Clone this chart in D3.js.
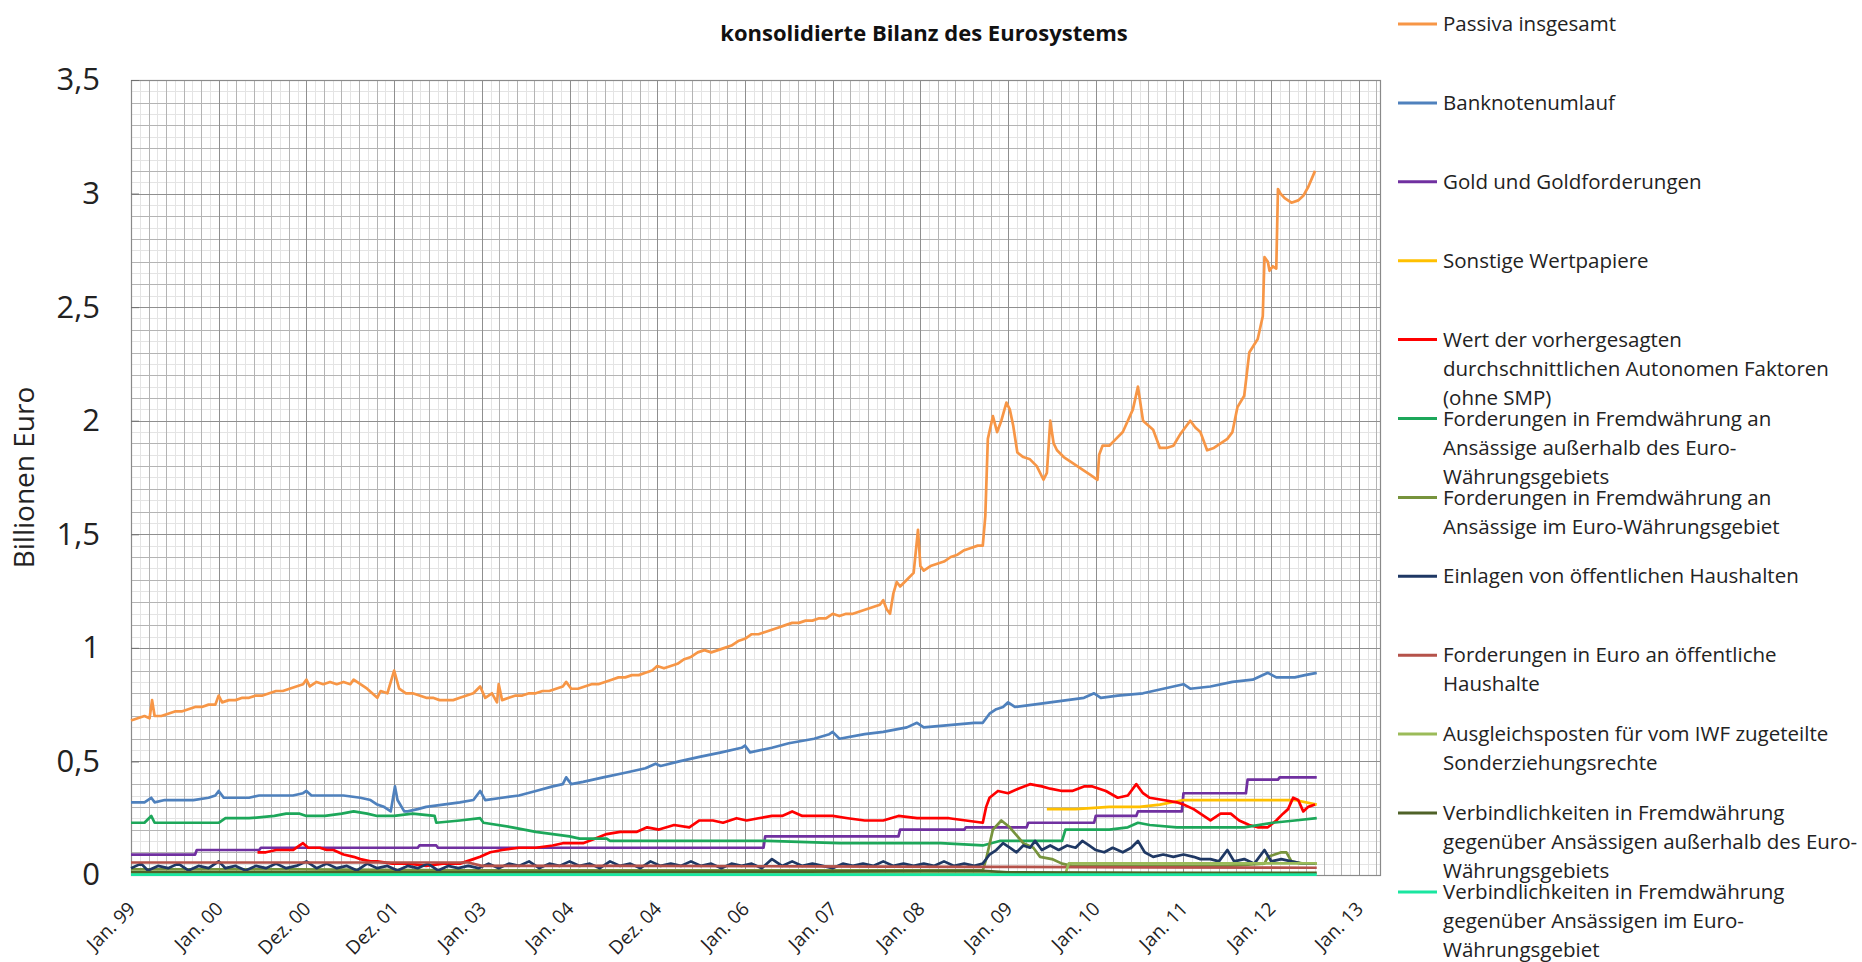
<!DOCTYPE html>
<html lang="de">
<head>
<meta charset="utf-8">
<title>konsolidierte Bilanz des Eurosystems</title>
<script src="https://cdn.jsdelivr.net/npm/d3@7"></script>
<style>
  html, body { margin: 0; padding: 0; background: #ffffff; }
  svg { display: block; font-family: "Open Sans", "Liberation Sans", sans-serif; }
</style>
</head>
<body>
<svg id="chart" width="1862" height="962"></svg>
<script>
// Wochenindex seit Jan. 1999 und Werte in Billionen Euro
const xTickWeeks = [0, 52, 104, 156, 208, 260, 312, 364, 416, 468, 520, 572, 624, 676, 728];
const xTickLabels = ["Jan. 99", "Jan. 00", "Dez. 00", "Dez. 01", "Jan. 03", "Jan. 04", "Dez. 04",
  "Jan. 06", "Jan. 07", "Jan. 08", "Jan. 09", "Jan. 10", "Jan. 11", "Jan. 12", "Jan. 13"];
const yTickValues = [0, 0.5, 1, 1.5, 2, 2.5, 3, 3.5];
const yTickLabels = ["0", "0,5", "1", "1,5", "2", "2,5", "3", "3,5"];

const passivaInsgesamt = [[0,0.68],[4,0.69],[8,0.70],[11,0.69],[12.5,0.77],[14,0.70],[18,0.70],[22,0.71],[26,0.72],[30,0.72],[34,0.73],[38,0.74],[42,0.74],[46,0.75],[50,0.75],[52,0.79],[54,0.76],[58,0.77],[62,0.77],[66,0.78],[70,0.78],[74,0.79],[78,0.79],[82,0.80],[86,0.81],[90,0.81],[94,0.82],[98,0.83],[102,0.84],[104,0.86],[106,0.83],[110,0.85],[114,0.84],[118,0.85],[122,0.84],[126,0.85],[130,0.84],[132,0.86],[136,0.84],[140,0.82],[143,0.80],[146,0.78],[148,0.81],[152,0.80],[156,0.90],[159,0.82],[163,0.80],[167,0.80],[171,0.79],[175,0.78],[179,0.78],[183,0.77],[187,0.77],[191,0.77],[195,0.78],[199,0.79],[203,0.80],[207,0.83],[210,0.78],[214,0.80],[217,0.76],[218,0.84],[220,0.77],[224,0.78],[228,0.79],[232,0.79],[236,0.80],[240,0.80],[244,0.81],[248,0.81],[252,0.82],[256,0.83],[258,0.85],[261,0.82],[265,0.82],[269,0.83],[273,0.84],[277,0.84],[281,0.85],[285,0.86],[289,0.87],[293,0.87],[297,0.88],[301,0.88],[305,0.89],[309,0.90],[312,0.92],[316,0.91],[320,0.92],[324,0.93],[328,0.95],[332,0.96],[336,0.98],[340,0.99],[344,0.98],[348,0.99],[352,1.00],[356,1.01],[360,1.03],[364,1.04],[368,1.06],[372,1.06],[376,1.07],[380,1.08],[384,1.09],[388,1.10],[392,1.11],[396,1.11],[400,1.12],[404,1.12],[408,1.13],[412,1.13],[416,1.15],[420,1.14],[424,1.15],[428,1.15],[432,1.16],[436,1.17],[440,1.18],[444,1.19],[446,1.21],[448,1.17],[450,1.15],[452,1.24],[454,1.29],[456,1.27],[460,1.30],[464,1.33],[466.6,1.52],[468,1.36],[470,1.34],[474,1.36],[478,1.37],[482,1.38],[486,1.40],[490,1.41],[494,1.43],[498,1.44],[502,1.45],[505,1.45],[506.5,1.58],[508,1.92],[511,2.02],[513.5,1.95],[516,2.00],[519,2.08],[521,2.05],[523,1.98],[525.5,1.86],[529,1.84],[533,1.83],[537,1.80],[541,1.74],[543,1.77],[545,2.00],[547,1.90],[549,1.87],[553,1.84],[557,1.82],[561,1.80],[565,1.78],[569,1.76],[573,1.74],[574,1.85],[576,1.89],[580,1.89],[584,1.92],[588,1.95],[591,2.00],[594,2.05],[597,2.15],[600,2.00],[603,1.98],[606,1.96],[610,1.88],[614,1.88],[618,1.89],[622,1.94],[625,1.97],[628,2.00],[631,1.97],[634,1.95],[638,1.87],[642,1.88],[646,1.90],[650,1.92],[653,1.95],[656,2.06],[660,2.11],[663,2.30],[668,2.36],[671,2.46],[672,2.72],[674,2.70],[675,2.66],[677,2.68],[679,2.67],[680,3.02],[681.5,3.00],[684,2.98],[688,2.96],[692,2.97],[695,2.99],[698,3.03],[702,3.10]];

const banknotenumlauf = [[0,0.32],[4,0.32],[8,0.32],[12,0.34],[14,0.32],[20,0.33],[28,0.33],[37,0.33],[46,0.34],[50,0.35],[52,0.37],[55,0.34],[62,0.34],[70,0.34],[76,0.35],[86,0.35],[96,0.35],[102,0.36],[104,0.37],[107,0.35],[116,0.35],[126,0.35],[136,0.34],[142,0.33],[146,0.31],[150,0.30],[154,0.28],[156.5,0.39],[158,0.33],[162,0.28],[164,0.28],[170,0.29],[175,0.30],[185,0.31],[195,0.32],[203,0.33],[207,0.37],[210,0.33],[220,0.34],[230,0.35],[240,0.37],[250,0.39],[256,0.40],[258,0.43],[261,0.40],[268,0.41],[280,0.43],[293,0.45],[305,0.47],[311,0.49],[314,0.48],[325,0.50],[337,0.52],[350,0.54],[362,0.56],[364,0.57],[367,0.54],[380,0.56],[390,0.58],[405,0.60],[414,0.62],[416,0.63],[420,0.60],[435,0.62],[446,0.63],[460,0.65],[466,0.67],[470,0.65],[485,0.66],[500,0.67],[505,0.67],[509,0.71],[513,0.73],[517,0.74],[520,0.76],[524,0.74],[535,0.75],[545,0.76],[555,0.77],[565,0.78],[571,0.80],[575,0.78],[585,0.79],[600,0.80],[612,0.82],[624,0.84],[628,0.82],[640,0.83],[653,0.85],[665,0.86],[674,0.89],[679,0.87],[690,0.87],[696,0.88],[703,0.89]];

const goldforderungen = [[0,0.09],[38,0.09],[39,0.11],[76,0.11],[77,0.12],[128,0.12],[170,0.12],[171,0.13],[181,0.13],[182,0.12],[240,0.12],[300,0.12],[375,0.12],[376,0.17],[455,0.17],[456,0.20],[494,0.20],[495,0.21],[531,0.21],[532,0.23],[571,0.23],[572,0.26],[596,0.26],[597,0.28],[623,0.28],[624,0.36],[661,0.36],[662,0.42],[680,0.42],[681,0.43],[703,0.43]];

const sonstigeWertpapiere = [[543,0.29],[560,0.29],[580,0.30],[598,0.30],[610,0.31],[624,0.33],[640,0.33],[663,0.33],[680,0.33],[690,0.33],[703,0.31]];

const autonomeFaktoren = [[75,0.10],[80,0.10],[86,0.11],[92,0.11],[96,0.11],[100,0.13],[102,0.14],[105,0.12],[108,0.12],[112,0.12],[116,0.11],[120,0.11],[126,0.09],[132,0.08],[136,0.07],[142,0.06],[146,0.06],[155,0.05],[165,0.05],[175,0.04],[185,0.05],[195,0.05],[203,0.07],[207,0.08],[213,0.10],[220,0.11],[230,0.12],[240,0.12],[250,0.13],[256,0.14],[262,0.14],[268,0.14],[275,0.16],[282,0.18],[290,0.19],[300,0.19],[306,0.21],[313,0.20],[322,0.22],[331,0.21],[337,0.24],[345,0.24],[351,0.23],[359,0.25],[365,0.24],[372,0.25],[380,0.26],[386,0.26],[392,0.28],[398,0.26],[405,0.26],[416,0.26],[425,0.25],[435,0.24],[446,0.24],[455,0.26],[466,0.25],[475,0.25],[485,0.25],[495,0.24],[505,0.23],[507,0.30],[509,0.34],[514,0.37],[520,0.36],[526,0.38],[533,0.40],[540,0.39],[545,0.38],[552,0.37],[558,0.37],[565,0.39],[570,0.39],[578,0.37],[585,0.34],[591,0.35],[596,0.40],[600,0.36],[604,0.34],[612,0.33],[620,0.32],[624,0.31],[630,0.29],[636,0.26],[640,0.24],[646,0.27],[652,0.27],[657,0.24],[663,0.22],[668,0.21],[674,0.21],[679,0.24],[683,0.27],[686,0.29],[689,0.34],[692,0.33],[695,0.28],[698,0.30],[702,0.31]];

const fremdwAusserhalb = [[0,0.23],[8,0.23],[12,0.26],[14,0.23],[30,0.23],[45,0.23],[52,0.23],[56,0.25],[70,0.25],[85,0.26],[92,0.27],[100,0.27],[104,0.26],[115,0.26],[125,0.27],[132,0.28],[140,0.27],[146,0.26],[156,0.26],[167,0.27],[180,0.26],[181,0.23],[195,0.24],[207,0.25],[209,0.23],[226,0.21],[240,0.19],[250,0.18],[260,0.17],[266,0.16],[282,0.16],[284,0.15],[300,0.15],[313,0.15],[337,0.15],[377,0.15],[420,0.14],[446,0.14],[480,0.14],[505,0.13],[515,0.15],[535,0.15],[552,0.15],[554,0.20],[580,0.20],[591,0.21],[597,0.23],[604,0.22],[620,0.21],[648,0.21],[660,0.21],[677,0.23],[690,0.24],[703,0.25]];

const fremdwImEuroraum = [[0,0.025],[100,0.025],[200,0.02],[300,0.02],[400,0.02],[505,0.02],[507,0.07],[511,0.20],[516,0.24],[521,0.21],[529,0.14],[535,0.12],[539,0.08],[546,0.07],[552,0.05],[558,0.04],[600,0.04],[650,0.04],[672,0.05],[674,0.08],[682,0.10],[685,0.10],[688,0.06],[695,0.05],[703,0.05]];

const einlagenHaushalte = [[0,0.03],[6,0.05],[10,0.02],[16,0.04],[22,0.03],[28,0.05],[34,0.02],[40,0.04],[46,0.03],[52,0.06],[56,0.03],[62,0.04],[68,0.02],[74,0.04],[80,0.03],[86,0.05],[92,0.03],[98,0.04],[104,0.06],[110,0.03],[116,0.05],[122,0.03],[128,0.04],[134,0.02],[140,0.05],[146,0.03],[152,0.04],[158,0.02],[164,0.04],[170,0.03],[176,0.05],[182,0.02],[188,0.04],[194,0.03],[200,0.04],[206,0.03],[212,0.05],[218,0.03],[224,0.05],[230,0.04],[236,0.06],[242,0.03],[248,0.05],[254,0.04],[260,0.06],[266,0.04],[272,0.05],[278,0.03],[284,0.06],[290,0.04],[296,0.05],[302,0.03],[308,0.06],[314,0.04],[320,0.05],[326,0.04],[332,0.06],[338,0.04],[344,0.05],[350,0.03],[356,0.05],[362,0.04],[368,0.05],[374,0.03],[380,0.07],[386,0.04],[392,0.06],[398,0.04],[404,0.05],[410,0.04],[416,0.03],[422,0.05],[428,0.04],[434,0.05],[440,0.04],[446,0.06],[452,0.04],[458,0.05],[464,0.04],[470,0.05],[476,0.04],[482,0.06],[488,0.04],[494,0.05],[500,0.04],[505,0.05],[509,0.09],[513,0.11],[517,0.14],[521,0.12],[525,0.10],[529,0.13],[533,0.12],[536,0.15],[540,0.11],[545,0.13],[550,0.11],[555,0.13],[560,0.12],[564,0.15],[568,0.13],[572,0.11],[577,0.10],[582,0.12],[588,0.10],[593,0.12],[597,0.15],[601,0.10],[606,0.08],[612,0.09],[618,0.08],[624,0.09],[630,0.08],[634,0.07],[640,0.07],[645,0.06],[650,0.11],[654,0.06],[660,0.07],[666,0.05],[672,0.11],[676,0.06],[682,0.07],[688,0.06],[694,0.05],[702,0.05]];

const euroForderungenHaushalte = [[0,0.055],[100,0.055],[200,0.055],[208,0.04],[300,0.04],[400,0.038],[500,0.036],[600,0.034],[703,0.032]];

const iwfAusgleichsposten = [[0,0.006],[200,0.006],[400,0.006],[554,0.006],[556,0.051],[620,0.051],[703,0.051]];

const verbAusserhalb = [[0,0.012],[200,0.012],[400,0.015],[505,0.018],[520,0.012],[620,0.01],[703,0.01]];

const verbImEuroraum = [[0,0.002],[350,0.002],[703,0.002]];

const seriesList = [
  { name: ["Passiva insgesamt"], color: "#f79646", values: passivaInsgesamt },
  { name: ["Banknotenumlauf"], color: "#4f81bd", values: banknotenumlauf },
  { name: ["Gold und Goldforderungen"], color: "#7030a0", values: goldforderungen },
  { name: ["Sonstige Wertpapiere"], color: "#ffc000", values: sonstigeWertpapiere },
  { name: ["Wert der vorhergesagten", "durchschnittlichen Autonomen Faktoren", "(ohne SMP)"], color: "#ff0000", values: autonomeFaktoren },
  { name: ["Forderungen in Fremdwährung an", "Ansässige außerhalb des Euro-", "Währungsgebiets"], color: "#1da75a", values: fremdwAusserhalb },
  { name: ["Forderungen in Fremdwährung an", "Ansässige im Euro-Währungsgebiet"], color: "#77933c", values: fremdwImEuroraum },
  { name: ["Einlagen von öffentlichen Haushalten"], color: "#1f3864", values: einlagenHaushalte },
  { name: ["Forderungen in Euro an öffentliche", "Haushalte"], color: "#b5524a", values: euroForderungenHaushalte },
  { name: ["Ausgleichsposten für vom IWF zugeteilte", "Sonderziehungsrechte"], color: "#9bbb59", values: iwfAusgleichsposten },
  { name: ["Verbindlichkeiten in Fremdwährung", "gegenüber Ansässigen außerhalb des Euro-", "Währungsgebiets"], color: "#4f6228", values: verbAusserhalb },
  { name: ["Verbindlichkeiten in Fremdwährung", "gegenüber Ansässigen im Euro-", "Währungsgebiet"], color: "#19e6a0", values: verbImEuroraum }
];

const svg = d3.select("#chart");
const plot = { left: 131, right: 1380, top: 80, bottom: 875 };

const x = d3.scaleLinear().domain([0, 740.5]).range([plot.left, plot.right]);
const y = d3.scaleLinear().domain([0, 3.5]).range([plot.bottom, plot.top]);

// Gitternetz: fein, mittel, Hauptlinien
const grid = svg.append("g");
const addV = (weeks, color) => grid.selectAll(null).data(weeks).join("line")
  .attr("x1", d => Math.round(x(d)) + 0.5).attr("x2", d => Math.round(x(d)) + 0.5)
  .attr("y1", plot.top).attr("y2", plot.bottom)
  .attr("stroke", color).attr("stroke-width", 1);
const addH = (vals, color) => grid.selectAll(null).data(vals).join("line")
  .attr("x1", plot.left).attr("x2", plot.right)
  .attr("y1", d => Math.round(y(d)) + 0.5).attr("y2", d => Math.round(y(d)) + 0.5)
  .attr("stroke", color).attr("stroke-width", 1);

const fineStep = 52 / 10;
addV(d3.range(0, 740.5, fineStep).filter((d, i) => i % 2 === 1), "#e4e4e4");
addH(d3.range(0.05, 3.5, 0.1), "#e4e4e4");
addV(d3.range(0, 740.5, fineStep * 2).filter((d, i) => i % 5 !== 0), "#b4b4b4");
addH(d3.range(0.1, 3.5, 0.1).filter(d => Math.abs(d * 2 - Math.round(d * 2)) > 1e-6), "#b4b4b4");
addV(xTickWeeks.filter(d => d > 0), "#8f8f8f");
addH(yTickValues.filter(d => d > 0 && d < 3.5), "#8f8f8f");

// Rahmen der Zeichenfläche
svg.append("rect")
  .attr("x", plot.left + 0.5).attr("y", plot.top + 0.5)
  .attr("width", plot.right - plot.left).attr("height", plot.bottom - plot.top)
  .attr("fill", "none").attr("stroke", "#8a8a8a").attr("stroke-width", 1.2);

// Y-Achse
const yAxis = d3.axisLeft(y).tickValues(yTickValues)
  .tickFormat((d, i) => yTickLabels[i]).tickSize(-8).tickPadding(31);
const yAxisG = svg.append("g").attr("transform", `translate(${plot.left},0)`).call(yAxis);
yAxisG.select(".domain").remove();
yAxisG.selectAll(".tick line").attr("stroke", "#707070");
yAxisG.selectAll("text").attr("font-size", 31).attr("fill", "#222").attr("font-family", "Open Sans, sans-serif");

// X-Achse mit schrägen Beschriftungen
const xAxis = d3.axisBottom(x).tickValues(xTickWeeks)
  .tickFormat((d, i) => xTickLabels[i]).tickSize(0);
const xAxisG = svg.append("g").attr("transform", `translate(0,${plot.bottom})`).call(xAxis);
xAxisG.select(".domain").remove();
xAxisG.selectAll("text")
  .attr("font-size", 19).attr("fill", "#222").attr("font-family", "Open Sans, sans-serif")
  .attr("text-anchor", "end")
  .attr("dy", null).attr("y", 0)
  .attr("transform", "translate(5,35) rotate(-45)");

// Achsentitel und Diagrammtitel
svg.append("text")
  .attr("transform", `translate(34,${(plot.top + plot.bottom) / 2}) rotate(-90)`)
  .attr("text-anchor", "middle").attr("font-size", 28).attr("fill", "#222")
  .text("Billionen Euro");

svg.append("text")
  .attr("x", 924).attr("y", 41)
  .attr("text-anchor", "middle").attr("font-size", 22).attr("font-weight", "bold").attr("fill", "#111")
  .text("konsolidierte Bilanz des Eurosystems");

// Datenreihen
const line = d3.line().x(d => x(d[0])).y(d => y(d[1])).curve(d3.curveLinear);
const lines = svg.append("g");
seriesList.forEach(s => {
  lines.append("path")
    .datum(s.values)
    .attr("fill", "none")
    .attr("stroke", s.color)
    .attr("stroke-width", 2.7)
    .attr("stroke-linejoin", "round")
    .attr("d", line);
});

// Legende
const legend = svg.append("g");
const legendTop = 24, legendStep = 78.9, lineHeight = 29;
seriesList.forEach((s, i) => {
  const cy = legendTop + i * legendStep;
  legend.append("line")
    .attr("x1", 1398).attr("x2", 1437).attr("y1", cy).attr("y2", cy)
    .attr("stroke", s.color).attr("stroke-width", 3);
  const t = legend.append("text").attr("x", 1443).attr("y", cy).attr("font-size", 20.5).attr("fill", "#222");
  s.name.forEach((ln, j) => {
    t.append("tspan").attr("x", 1443).attr("y", cy + j * lineHeight).attr("dy", "0.35em").text(ln);
  });
});
</script>
</body>
</html>
